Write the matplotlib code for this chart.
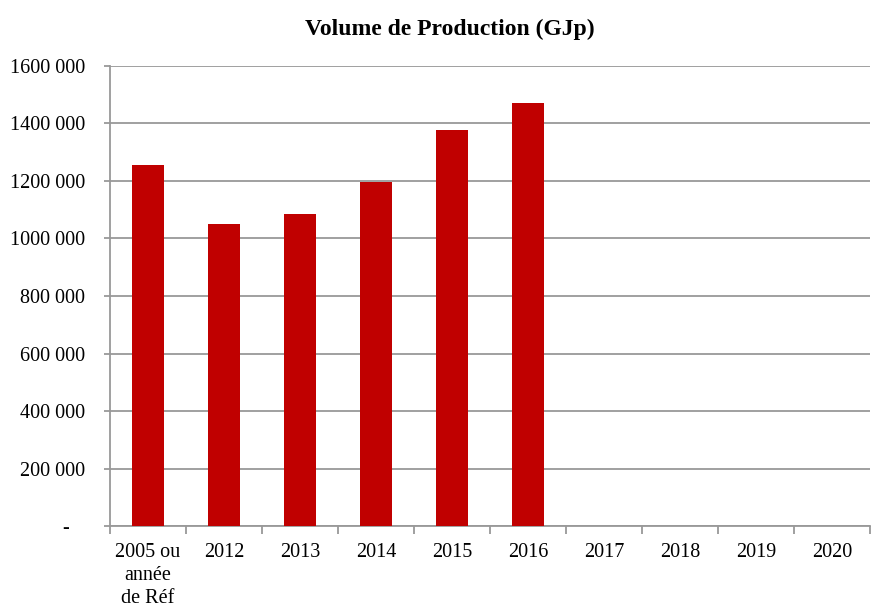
import matplotlib.pyplot as plt
from matplotlib.ticker import FuncFormatter, FixedLocator

categories = ["2005 ou\nannée\nde Réf", "2012", "2013", "2014", "2015", "2016",
              "2017", "2018", "2019", "2020"]
volumes = [1255000, 1051000, 1085000, 1196000, 1379000, 1472000]

plt.rcParams['font.family'] = ['Liberation Serif', 'DejaVu Serif']

fig = plt.figure(figsize=(8.72, 6.15), dpi=100)
ax = fig.add_axes([0.126, 0.1447, 0.872, 0.748])

x = list(range(len(categories)))
ax.bar(x[:len(volumes)], volumes, width=0.43, color='#C00000', zorder=3)

ax.set_xlim(-0.5, len(categories) - 0.5)
ax.set_ylim(0, 1600000)

# y ticks and grid
ax.set_yticks(range(0, 1600001, 200000))

def fmt(v, pos):
    if v == 0:
        return "-   "
    return f"{int(v // 1000)} 000"

ax.yaxis.set_major_formatter(FuncFormatter(fmt))
ax.grid(axis='y', color='#999999', linewidth=1.3, zorder=0)

# x: labels centered, tick marks between categories
ax.set_xticks(x)
ax.set_xticklabels(categories, fontsize=14.5, linespacing=1.3)
ax.tick_params(axis='x', length=0, pad=12)
ax.xaxis.set_minor_locator(FixedLocator([i - 0.5 for i in range(len(categories) + 1)]))
ax.tick_params(axis='x', which='minor', length=6, width=1.3, color='#999999', direction='out')
ax.tick_params(axis='y', length=4, width=1.3, color='#999999', labelsize=14.5, pad=14)

for side in ['top', 'right']:
    ax.spines[side].set_visible(False)
for side in ['left', 'bottom']:
    ax.spines[side].set_color('#999999')
    ax.spines[side].set_linewidth(1.3)

fig.text(0.516, 0.952, "Volume de Production (GJp)", ha='center', va='center',
         fontsize=17, fontweight='bold')

fig.savefig("out.png", dpi=100)
